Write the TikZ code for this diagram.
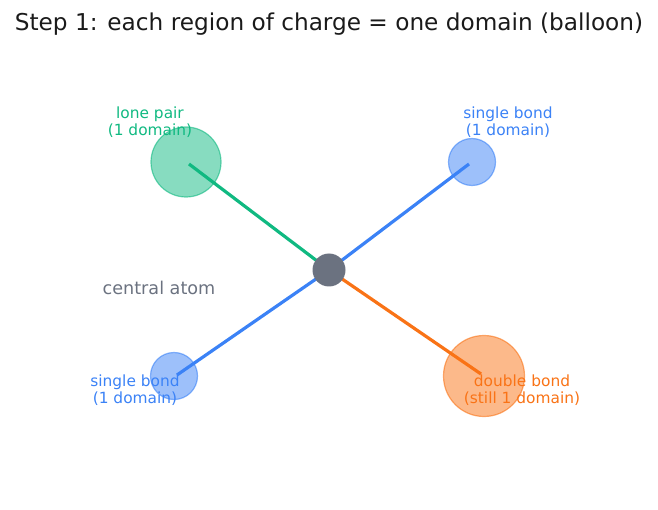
\documentclass[tikz,border=0pt]{standalone}
\usepackage{fontspec}
\setmainfont{DejaVu Sans}
\definecolor{cgreen}{HTML}{10B981}
\definecolor{cblue}{HTML}{3B82F6}
\definecolor{corange}{HTML}{F97316}
\definecolor{cgray}{HTML}{6B7280}
\definecolor{ctext}{HTML}{1A1A1A}
\begin{document}
\begin{tikzpicture}[x=1pt,y=-1pt,
  balloon/.style={circle,inner sep=0pt,fill=#1,fill opacity=0.5,draw=#1,draw opacity=0.6,line width=1.2pt},
  bondline/.style={line width=3.2pt,draw=#1},
  lbl/.style={text=#1,font=\fontsize{15.4}{17}\selectfont,align=center,inner sep=0pt}]
\useasboundingbox (0,0) rectangle (658,510);
\node[text=ctext,font=\fontsize{23.2}{27}\selectfont,inner sep=0pt] (title) at (329,24) {Step 1: each region of charge = one domain (balloon)};
% balloons
\node[balloon=cgreen,minimum size=70pt] (lp) at (186,162) {};
\node[balloon=cblue,minimum size=47pt] (sb1) at (472,162) {};
\node[balloon=cblue,minimum size=47pt] (sb2) at (174,376) {};
\node[balloon=corange,minimum size=81pt] (db) at (484,376) {};
% line ends
\coordinate (elp) at (189,164);
\coordinate (esb1) at (469,164);
\coordinate (esb2) at (177,375);
\coordinate (edb) at (481,374);
\coordinate (ctr) at (329,270);
\draw[bondline=cgreen] (ctr) -- (elp);
\draw[bondline=cblue] (ctr) -- (esb1);
\draw[bondline=cblue] (ctr) -- (esb2);
\draw[bondline=corange] (ctr) -- (edb);
\node[circle,fill=cgray,inner sep=0pt,minimum size=33pt] (atom) at (ctr) {};
% labels
\node[lbl=cgreen] (tlp) at (150,122.5) {lone pair\\(1 domain)};
\node[lbl=cblue] (tsb1) at (508,122.5) {single bond\\(1 domain)};
\node[lbl=cblue] (tsb2) at (135,390.5) {single bond\\(1 domain)};
\node[lbl=corange] (tdb) at (522,390.5) {double bond\\(still 1 domain)};
\node[text=cgray,font=\fontsize{17.6}{20}\selectfont,inner sep=0pt] (tca) at (159,288) {central atom};
\end{tikzpicture}
\end{document}
